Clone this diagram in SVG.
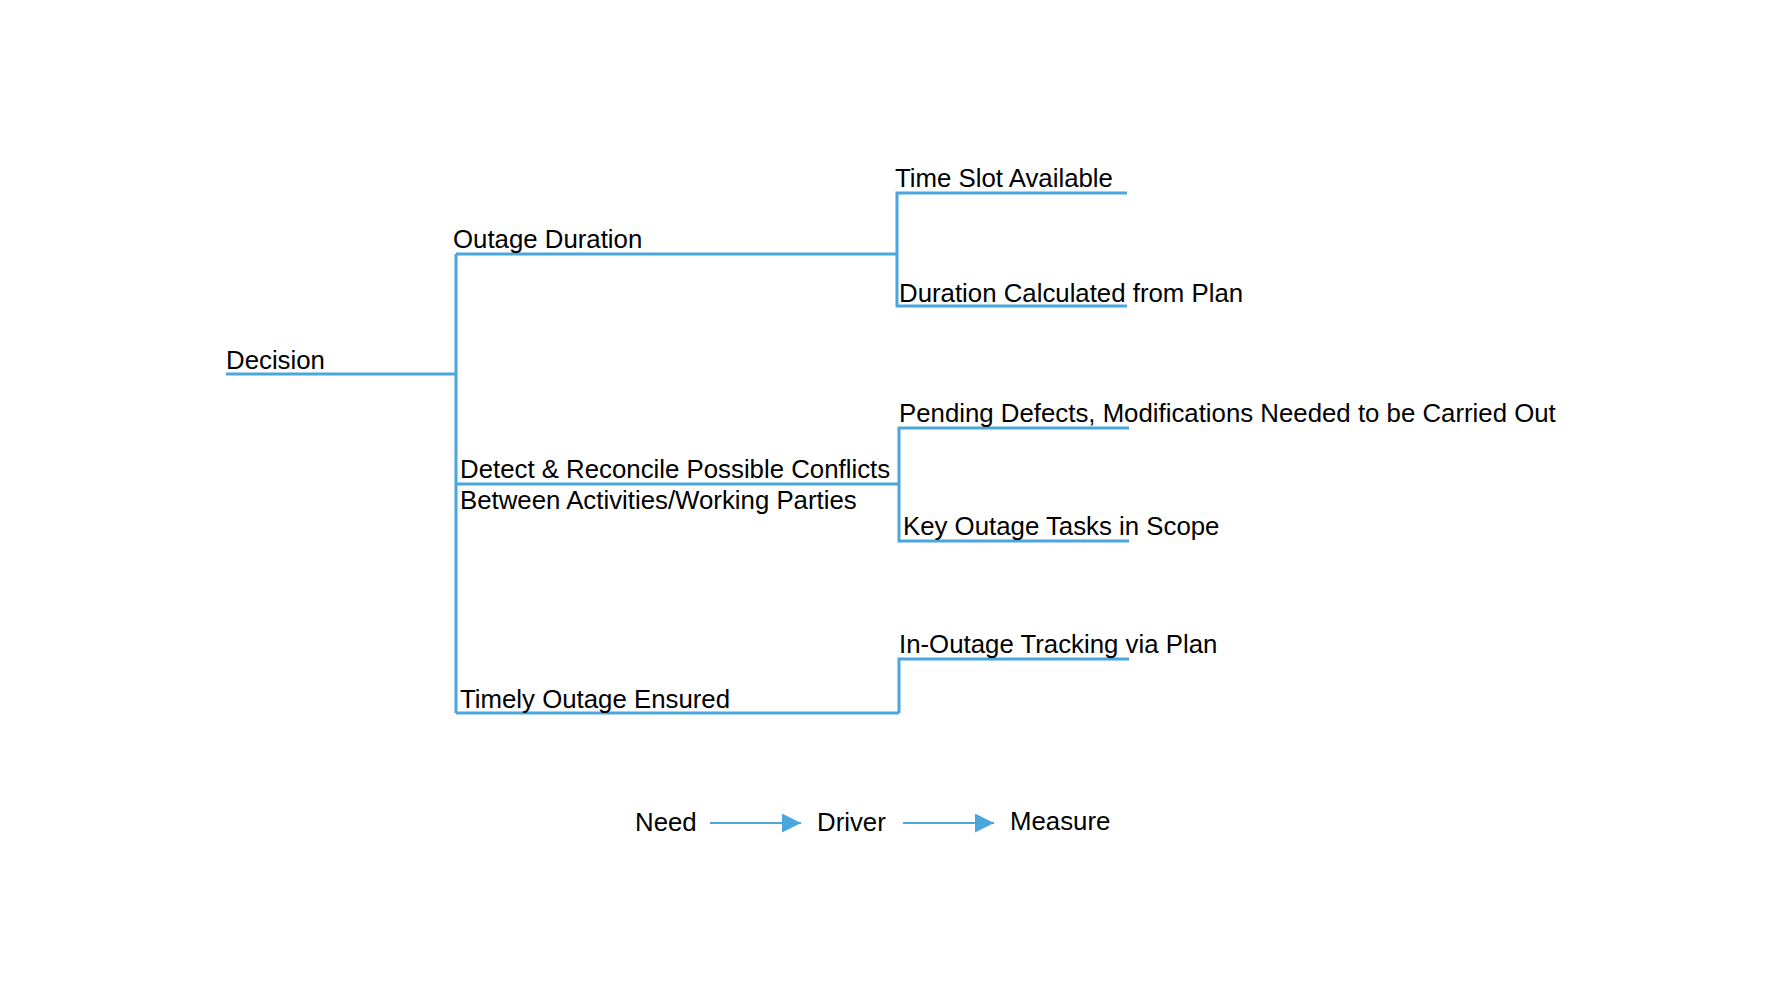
<svg xmlns="http://www.w3.org/2000/svg" width="1778" height="1000" viewBox="0 0 1778 1000">
<style>
  .t { font-family: "Liberation Sans", Arial, sans-serif; font-size: 25.8px; fill: #000; }
  .c { fill: none; stroke: #4ba6de; stroke-width: 3; }
  .l { fill: none; stroke: #4ba6de; stroke-width: 2; }
</style>
<defs>
  <marker id="ah" viewBox="0 0 10 10" refX="10" refY="5" markerWidth="19" markerHeight="19" markerUnits="userSpaceOnUse" orient="auto">
    <path d="M0,0 L10,5 L0,10 Z" fill="#4ba6de"/>
  </marker>
</defs>
<rect width="1778" height="1000" fill="#fff"/>
<g id="connectors">
  <path class="c" d="M226,374 H456"/>
  <path class="c" d="M456,254 V713"/>
  <path class="c" d="M456,254 H897"/>
  <path class="c" d="M456,484 H899"/>
  <path class="c" d="M456,713 H899"/>
  <path class="c" d="M1127,193 H897 V306 H1127"/>
  <path class="c" d="M1129,428 H899 V541 H1129"/>
  <path class="c" d="M1129,659 H899 V713"/>
</g>
<g id="decision"><text class="t" x="226" y="369">Decision</text></g>
<g id="outage-duration"><text class="t" x="453" y="248">Outage Duration</text></g>
<g id="detect"><text class="t" x="460" y="478">Detect &amp; Reconcile Possible Conflicts</text><text class="t" x="460" y="509">Between Activities/Working Parties</text></g>
<g id="timely"><text class="t" x="460" y="708">Timely Outage Ensured</text></g>
<g id="time-slot"><text class="t" x="895" y="187">Time Slot Available</text></g>
<g id="duration-calc"><text class="t" x="899" y="302">Duration Calculated from Plan</text></g>
<g id="pending"><text class="t" x="899" y="422">Pending Defects, Modifications Needed to be Carried Out</text></g>
<g id="key-tasks"><text class="t" x="903" y="535">Key Outage Tasks in Scope</text></g>
<g id="in-outage"><text class="t" x="899" y="653">In-Outage Tracking via Plan</text></g>
<g id="legend">
  <text class="t" x="635" y="831">Need</text>
  <path class="l" d="M710,823 H801" marker-end="url(#ah)"/>
  <text class="t" x="817" y="831">Driver</text>
  <path class="l" d="M903,823 H994" marker-end="url(#ah)"/>
  <text class="t" x="1010" y="830">Measure</text>
</g>
</svg>
